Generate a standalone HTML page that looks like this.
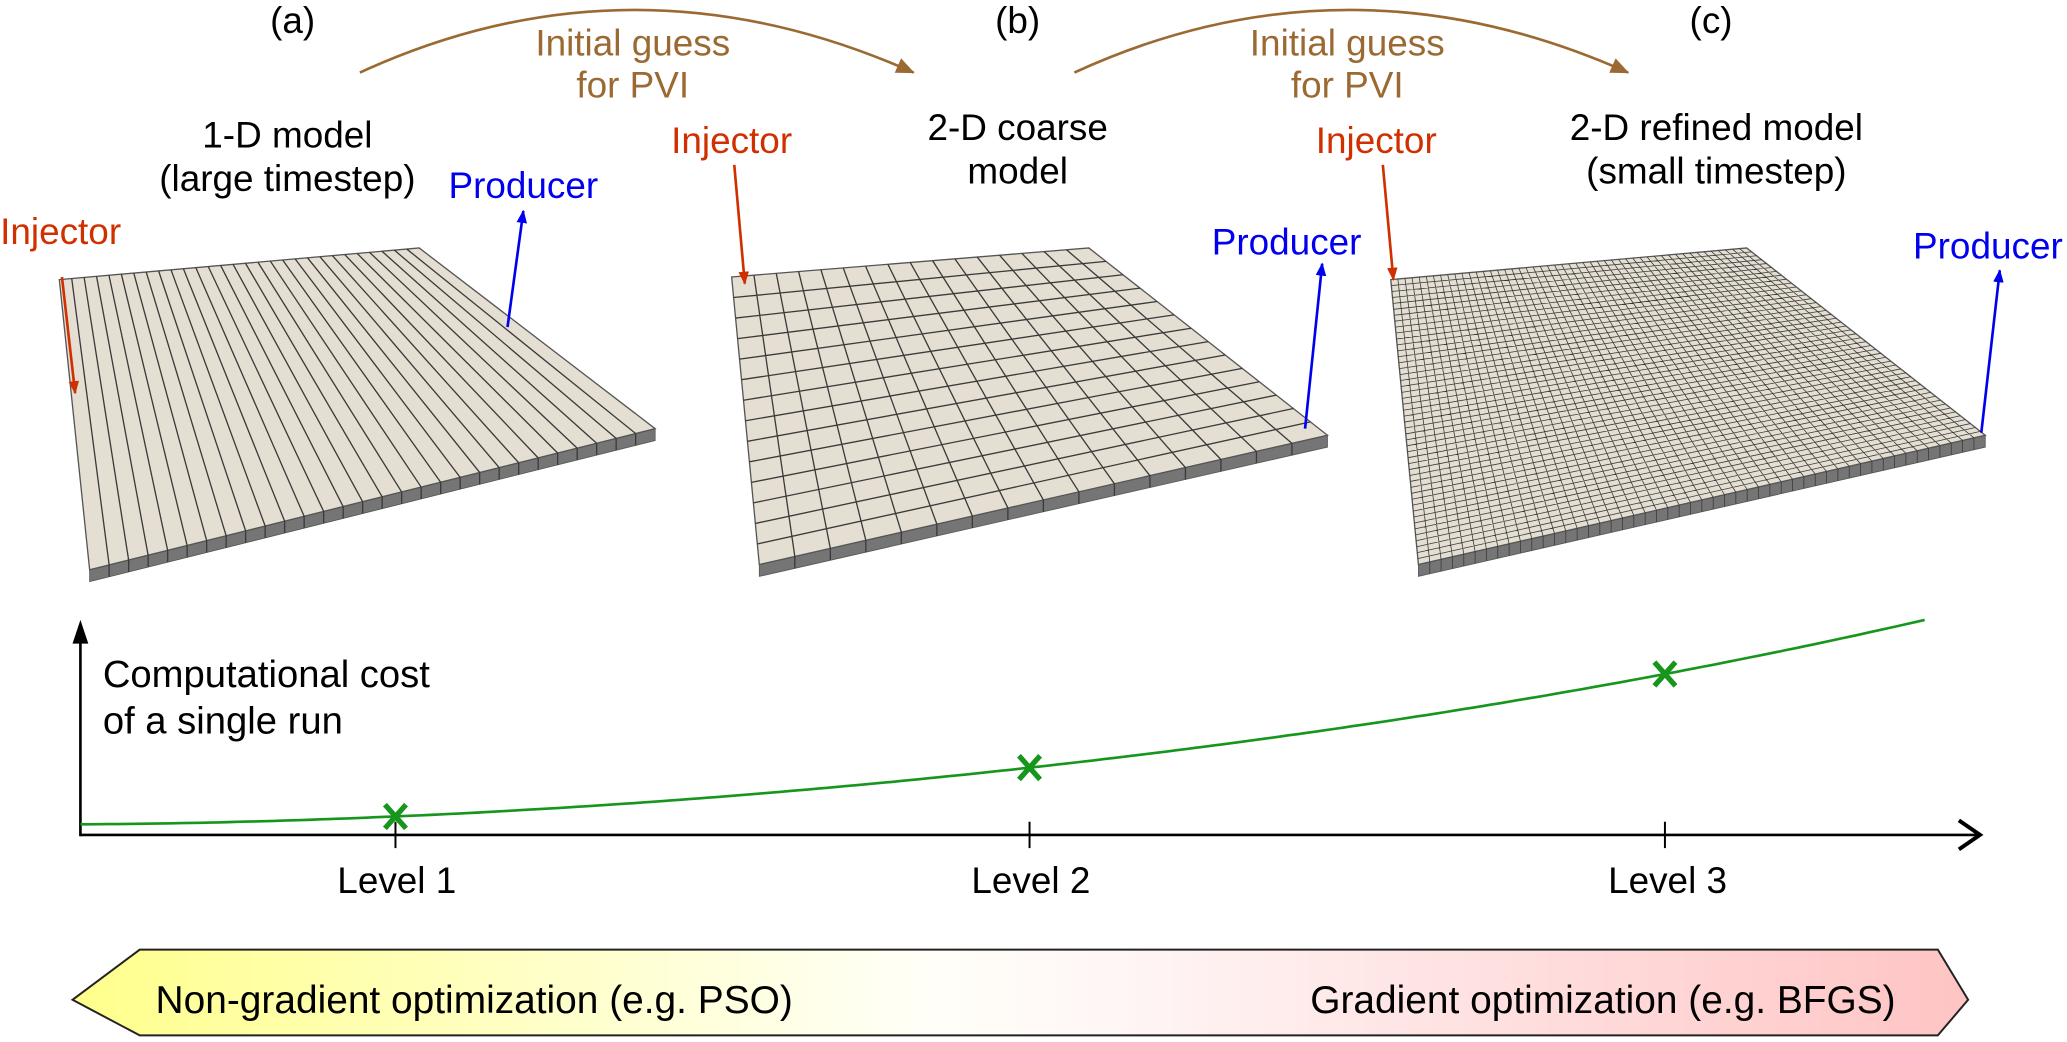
<!DOCTYPE html>
<html><head><meta charset="utf-8"><style>
html,body{margin:0;padding:0;background:#fff;}
svg{display:block;}
text{font-family:"Liberation Sans",Arial,sans-serif;}
</style></head><body>
<svg id="s" width="2067" height="1042" viewBox="0 0 1568 790" preserveAspectRatio="none" xmlns="http://www.w3.org/2000/svg">
<defs>
<linearGradient id="g" x1="0" x2="1" y1="0" y2="0">
<stop offset="0" stop-color="#ffff8c"/><stop offset="0.45" stop-color="#fffff8"/><stop offset="0.55" stop-color="#fff6f6"/><stop offset="1" stop-color="#ffc4c4"/>
</linearGradient>
<marker id="ab" markerWidth="14" markerHeight="12" refX="13" refY="6" orient="auto" markerUnits="userSpaceOnUse"><path d="M0,0 L14,6 L0,12 z" fill="#9b6a33"/></marker>
<marker id="ar" markerWidth="10" markerHeight="8" refX="9" refY="4" orient="auto" markerUnits="userSpaceOnUse"><path d="M0,0 L10,4 L0,8 z" fill="#d03000"/></marker>
<marker id="abl" markerWidth="10" markerHeight="8" refX="9" refY="4" orient="auto" markerUnits="userSpaceOnUse"><path d="M0,0 L10,4 L0,8 z" fill="#0000ee"/></marker>
</defs>
<g id="plates"></g>
<g font-size="28" text-anchor="middle">
<text x="222" y="25">(a)</text><text x="772" y="25">(b)</text><text x="1298" y="25">(c)</text>
<text x="480" y="42" fill="#9b6a33">Initial guess</text><text x="480" y="74" fill="#9b6a33">for PVI</text>
<text x="1022" y="42" fill="#9b6a33">Initial guess</text><text x="1022" y="74" fill="#9b6a33">for PVI</text>
<text x="218" y="112">1-D model</text><text x="218" y="145">(large timestep)</text>
<text x="772" y="106">2-D coarse</text><text x="772" y="139">model</text>
<text x="1302" y="106">2-D refined model</text><text x="1302" y="139">(small timestep)</text>
<text x="397" y="150" fill="#0000ee">Producer</text>
<text x="46" y="185" fill="#d03000">Injector</text>
<text x="555" y="116" fill="#d03000">Injector</text>
<text x="976" y="193" fill="#0000ee">Producer</text>
<text x="1044" y="116" fill="#d03000">Injector</text>
<text x="1508" y="196" fill="#0000ee">Producer</text>
<text x="301" y="677">Level 1</text><text x="782" y="677">Level 2</text><text x="1265" y="677">Level 3</text>
</g>
<g font-size="29"><text x="78" y="521">Computational cost</text><text x="78" y="556">of a single run</text></g>
<path d="M273,55 Q480,-40 693,55" fill="none" stroke="#9b6a33" stroke-width="2" marker-end="url(#ab)"/>
<path d="M815,55 Q1022,-40 1235,55" fill="none" stroke="#9b6a33" stroke-width="2" marker-end="url(#ab)"/>
<line x1="47" y1="210" x2="57" y2="298" stroke="#d03000" stroke-width="2" marker-end="url(#ar)"/>
<line x1="557" y1="125" x2="565" y2="215" stroke="#d03000" stroke-width="2" marker-end="url(#ar)"/>
<line x1="1049" y1="125" x2="1057" y2="212" stroke="#d03000" stroke-width="2" marker-end="url(#ar)"/>
<line x1="385" y1="248" x2="397" y2="160" stroke="#0000ee" stroke-width="2" marker-end="url(#abl)"/>
<line x1="990" y1="325" x2="1003" y2="200" stroke="#0000ee" stroke-width="2" marker-end="url(#abl)"/>
<line x1="1503" y1="328" x2="1517" y2="205" stroke="#0000ee" stroke-width="2" marker-end="url(#abl)"/>
<line x1="61" y1="634" x2="61" y2="480" stroke="#000" stroke-width="2"/>
<path d="M55,488 L61,470 L67,488 Z" fill="#000"/>
<line x1="61" y1="633" x2="1500" y2="633" stroke="#000" stroke-width="2"/>
<path d="M1486,622 L1502,633 L1486,644" fill="none" stroke="#000" stroke-width="3"/>
<g stroke="#000" stroke-width="1.5"><line x1="300" y1="623" x2="300" y2="643"/><line x1="781" y1="623" x2="781" y2="643"/><line x1="1263" y1="623" x2="1263" y2="643"/></g>
<path id="curve" fill="none" stroke="#17961e" stroke-width="2"/>
<g stroke="#17961e" stroke-width="4"><path d="M292,610 L308,628 M308,610 L292,628"/><path d="M773,573 L789,591 M789,573 L773,591"/><path d="M1255,502 L1271,520 M1271,502 L1255,520"/></g>
<path d="M55,758 L106,720 L1470,720 L1493,758 L1470,785 L106,785 Z" fill="url(#g)" stroke="#222" stroke-width="1.5"/>
<g font-size="29.5"><text x="118" y="768">Non-gradient optimization (e.g. PSO)</text><text x="1438" y="768" text-anchor="end">Gradient optimization (e.g. BFGS)</text></g>
</svg>
<script>
var NS="http://www.w3.org/2000/svg",G=document.getElementById("plates");
function el(t,a){var e=document.createElementNS(NS,t);for(var k in a)e.setAttribute(k,a[k]);G.appendChild(e);return e;}
function L(p,q,t){return[p[0]+(q[0]-p[0])*t,p[1]+(q[1]-p[1])*t];}
function plate(TL,TR,BR,BL,nu,nv,sw){
 var d=9;
 el("polygon",{points:[BL,BR,[BR[0],BR[1]+d],[BL[0],BL[1]+d]].join(" "),fill:"#757575",stroke:"#555","stroke-width":0.6});
 el("polygon",{points:[TL,TR,BR,BL].join(" "),fill:"#e4dfd2",stroke:"#555","stroke-width":1});
 var s="";
 for(var i=1;i<nu;i++){var t=i/nu,a=L(TL,TR,t),b=L(BL,BR,t);s+="M"+a+" L"+b+" ";
  s+="M"+b+" L"+b[0]+","+(b[1]+d)+" ";}
 for(var j=1;j<nv;j++){var t=j/nv,a=L(TL,BL,t),b=L(TR,BR,t);s+="M"+a+" L"+b+" ";}
 el("path",{d:s,stroke:"#3a3a3a","stroke-width":sw,fill:"none"});
}
plate([45,212],[318,188],[497,325],[68,432],29,1,1);
plate([555,210],[826,188],[1007,330],[576,428],16,14,1);
plate([1055,212],[1325,188],[1506,330],[1076,428],50,48,0.6);
var P=[[61,625],[300,619],[781,582],[1263,511],[1460,470]];
var x0=61,x1=1460,d="";
for(var k=0;k<=200;k++){
 var x=x0+(x1-x0)*k/200,y=0;
 for(var i=0;i<P.length;i++){var w=P[i][1];for(var j=0;j<P.length;j++)if(j!=i)w*=(x-P[j][0])/(P[i][0]-P[j][0]);y+=w;}
 d+=(k?"L":"M")+x.toFixed(1)+","+y.toFixed(1);
}
document.getElementById("curve").setAttribute("d",d);
</script>
</body></html>
